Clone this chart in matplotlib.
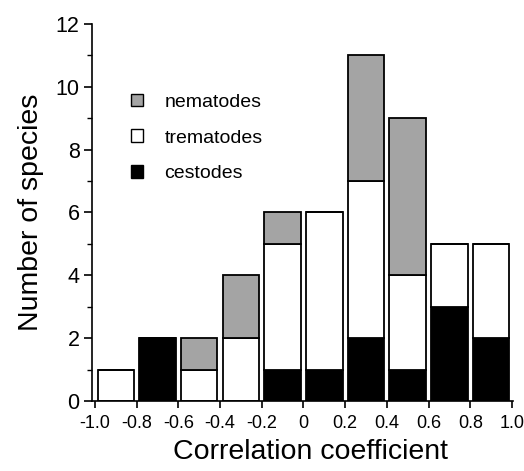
import numpy as np
import matplotlib.pyplot as plt
from matplotlib.patches import Patch

plt.rcParams['font.family'] = ['Liberation Sans', 'DejaVu Sans']

# histogram bins (left edges) of correlation coefficient
bin_left = np.array([-1.0, -0.8, -0.6, -0.4, -0.2, 0.0, 0.2, 0.4, 0.6, 0.8])
bin_width = 0.2

# species counts per bin, stacked bottom to top
cestodes = np.array([0, 2, 0, 0, 1, 1, 2, 1, 3, 2])
trematodes = np.array([1, 0, 1, 2, 4, 5, 5, 3, 2, 3])
nematodes = np.array([0, 0, 1, 2, 1, 0, 4, 5, 0, 0])

xticks = [-1.0, -0.8, -0.6, -0.4, -0.2, 0.0, 0.2, 0.4, 0.6, 0.8, 1.0]
xtick_labels = ['-1.0', '-0.8', '-0.6', '-0.4', '-0.2', '0', '0.2', '0.4', '0.6', '0.8', '1.0']

fig = plt.figure(figsize=(5.24, 4.71), dpi=100)
ax = fig.add_axes([0.1756, 0.1486, 0.8034, 0.8005])

centers = bin_left + bin_width / 2
w = 0.175
nem_color = '#a4a4a4'

ax.bar(centers, cestodes, width=w, color='black', edgecolor='black', linewidth=1.3)
ax.bar(centers, trematodes, width=w, bottom=cestodes, color='white', edgecolor='black', linewidth=1.3)
ax.bar(centers, nematodes, width=w, bottom=cestodes + trematodes, color=nem_color,
       edgecolor='black', linewidth=1.3)

ax.set_xlim(-1.014, 1.005)
ax.set_ylim(0, 12)
ax.set_xticks(xticks)
ax.set_xticklabels(xtick_labels, fontsize=13)
ax.set_yticks([0, 2, 4, 6, 8, 10, 12])
ax.set_yticks([1, 3, 5, 7, 9, 11], minor=True)
ax.tick_params(axis='y', labelsize=15.5, length=6, width=1.2, direction='out', pad=3)
ax.tick_params(axis='y', which='minor', length=3.5, width=1.0)
ax.tick_params(axis='x', length=5, width=1.2, direction='out', pad=5)

for s in ['top', 'right']:
    ax.spines[s].set_visible(False)
for s in ['left', 'bottom']:
    ax.spines[s].set_linewidth(1.2)

ax.set_xlabel('Correlation coefficient', fontsize=20.5)
ax.xaxis.set_label_coords(0.52, -0.10)
ax.set_ylabel('Number of species', fontsize=20.5, labelpad=8)

handles = [Patch(facecolor=nem_color, edgecolor='black'),
           Patch(facecolor='white', edgecolor='black'),
           Patch(facecolor='black', edgecolor='black')]
ax.legend(handles, ['nematodes', 'trematodes', 'cestodes'], frameon=False,
          loc='upper left', bbox_to_anchor=(0.05, 0.862), fontsize=14,
          handlelength=0.65, handleheight=0.65, handletextpad=1.1, labelspacing=0.95)

fig.savefig('out.png', dpi=100)
